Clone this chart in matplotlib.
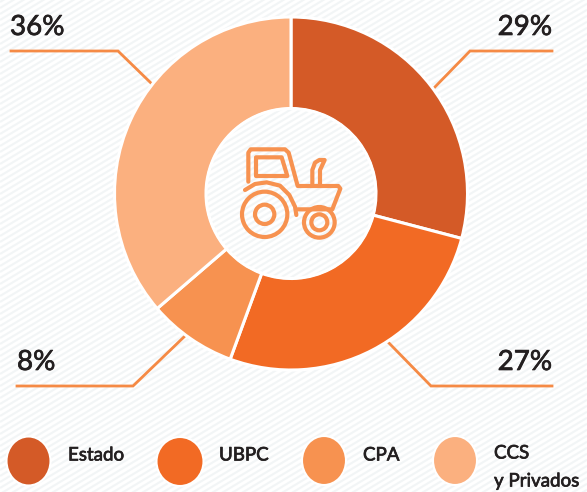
import numpy as np
import matplotlib
matplotlib.use("Agg")
import matplotlib.pyplot as plt
import matplotlib.patheffects as pe
from matplotlib.patches import Ellipse, Circle, PathPatch
from matplotlib.path import Path
from matplotlib.collections import LineCollection

categories = ["Estado", "UBPC", "CPA", "CCS\ny Privados"]
values = [29.1, 26.5, 8.1, 36.3]
colors = ["#D45A27", "#F26A24", "#F79250", "#FBB07F"]
pct_labels = ["29%", "27%", "8%", "36%"]

W, H = 587, 492
FONT = ["Lato", "DejaVu Sans"]
INK = "#231F20"
LINE = "#F58A45"
ICON = "#F79250"
THICK = [pe.withStroke(linewidth=0.5, foreground=INK)]

fig = plt.figure(figsize=(W / 100, H / 100), dpi=100, facecolor="white")
ax = fig.add_axes([0, 0, 1, 1])

def Y(y):
    return H - y

# striped paper background
offs = np.arange(-400, 900, 6.0)
segs = [[(0, Y(o)), (W, Y(o - 0.6 * W))] for o in offs]
ax.add_collection(LineCollection(segs, colors="#F2F5F6", linewidths=1.5, zorder=0))

# donut
cx, cy, R, r = 291, 193.5, 176.5, 85
ax.pie(values, colors=colors, startangle=90, counterclock=False,
       center=(cx, Y(cy)), radius=R,
       wedgeprops=dict(width=R - r, edgecolor="white", linewidth=2.2, zorder=2))
ax.add_patch(Circle((cx, Y(cy)), r, fc="none", ec="white", lw=1.5, zorder=3))

# leader lines
leaders = [
    [(552, 51), (470, 51), (432, 90)],
    [(552, 386), (431, 386), (387, 341)],
    [(17, 386), (133, 386), (186, 335)],
    [(11, 51), (118, 51), (153, 85)],
]
for pts in leaders:
    ax.plot([p[0] for p in pts], [Y(p[1]) for p in pts], color=LINE, lw=2.0,
            solid_joinstyle="miter", zorder=1)

# percentage labels
pct_pos = [(552, 27, "right"), (552, 362, "right"), (17, 362, "left"), (10, 27, "left")]
for lab, (x, y, ha) in zip(pct_labels, pct_pos):
    ax.text(x, Y(y), lab, fontsize=20, family=FONT, color=INK, ha=ha, va="center",
            path_effects=THICK)

# legend
leg_x = [(28.5, 22), (180, 23.5), (324, 22), (455, 22)]
leg_y = [461, 461.5, 460.5, 460.5]
txt_x = [68, 219, 363, 494]
for (x, rx), y, c, t, tx in zip(leg_x, leg_y, colors, categories, txt_x):
    ax.add_patch(Ellipse((x, Y(y)), 2 * rx, 49, fc=c, ec="white", lw=1.5, zorder=3))
    parts = t.split("\n")
    kw = dict(fontsize=13.5, family=FONT, color=INK, ha="left", va="center", path_effects=THICK)
    if len(parts) == 1:
        ax.text(tx, Y(455), parts[0], **kw)
    else:
        ax.text(tx, Y(453), parts[0], **kw)
        ax.text(tx, Y(481), parts[1], **kw)

# tractor icon (decoration, zoom-crop coordinates)
def ix(zx):
    return 200 + zx / 3
def iy(zy):
    return Y(110 + zy / 3)
icon_kw = dict(fc="none", ec=ICON, lw=3.0, zorder=4, capstyle="round", joinstyle="round")
def poly(pts, closed=False):
    v = [(ix(a), iy(b)) for a, b in pts]
    codes = [Path.MOVETO] + [Path.LINETO] * (len(v) - 1)
    if closed:
        v.append(v[0]); codes.append(Path.CLOSEPOLY)
    ax.add_patch(PathPatch(Path(v, codes), **icon_kw))
poly([(145, 215), (145, 128), (152, 118), (255, 118), (266, 128), (293, 228), (415, 228),
      (421, 236), (397, 298), (293, 298)])
poly([(168, 142), (245, 142), (262, 198), (168, 198)], closed=True)
poly([(135, 240), (165, 222), (200, 217), (240, 227), (268, 255), (285, 290), (289, 315)])
poly([(337, 228), (337, 180), (345, 158), (358, 150), (374, 150), (360, 180), (360, 228)])
for zx, zy, zr in [(194, 313, 68), (194, 313, 29), (358, 337, 46), (358, 337, 24)]:
    ax.add_patch(Circle((ix(zx), iy(zy)), zr / 3, **icon_kw))

ax.set_xlim(0, W)
ax.set_ylim(0, H)
ax.set_aspect("auto")
ax.axis("off")
fig.savefig("out.png", dpi=100, facecolor="white")
